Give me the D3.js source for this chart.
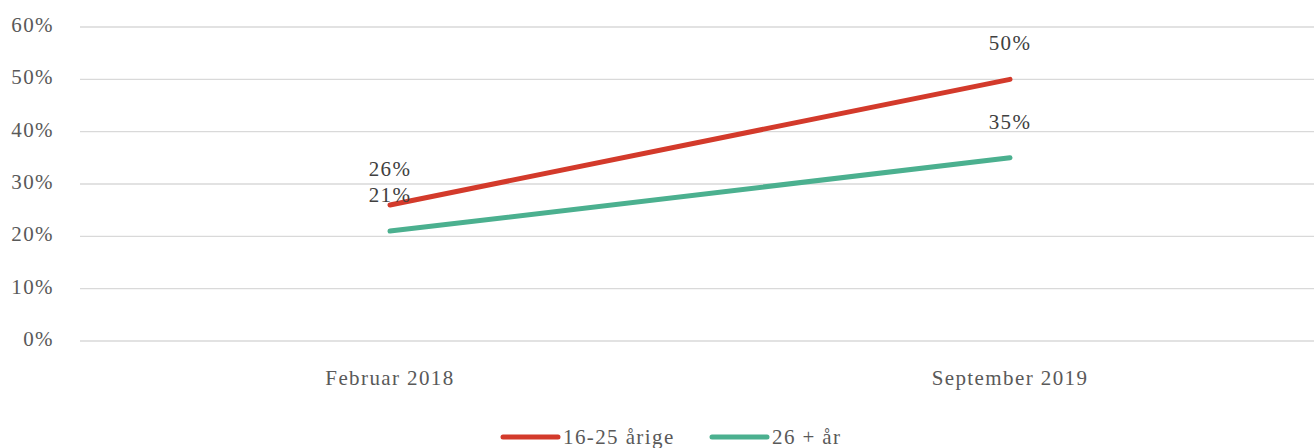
<!DOCTYPE html>
<html>
<head>
<meta charset="utf-8">
<script src="https://cdn.jsdelivr.net/npm/d3@7"></script>
<style>
  html, body { margin: 0; padding: 0; background: #fff; }
  svg { display: block; font-family: "Liberation Serif", "DejaVu Serif", serif; }
  svg text { font-size: 21px; letter-spacing: 1.4px; }
</style>
</head>
<body>
<svg id="chart" width="1314" height="448"></svg>
<script>
// data
const categories = ["Februar 2018", "September 2019"];
const seriesNames = ["16-25 årige", "26 + år"];
const youngValues = [26, 50];
const olderValues = [21, 35];
const yTicks = [0, 10, 20, 30, 40, 50, 60];
const colors = ["#d33a2b", "#4bb08f"];

const series = [
  { name: seriesNames[0], values: youngValues, color: colors[0] },
  { name: seriesNames[1], values: olderValues, color: colors[1] }
];

const width = 1314, height = 448;
const margin = { left: 80, right: -6, top: 27, bottom: 107 };

const svg = d3.select("#chart");

const x = d3.scalePoint()
  .domain(categories)
  .range([margin.left, width - margin.right])
  .padding(0.5);

const y = d3.scaleLinear()
  .domain([0, 60])
  .range([height - margin.bottom, margin.top]);

// gridlines
svg.append("g")
  .selectAll("line")
  .data(yTicks)
  .join("line")
  .attr("x1", margin.left)
  .attr("x2", width)
  .attr("y1", d => y(d))
  .attr("y2", d => y(d))
  .attr("stroke", "#d9d9d9")
  .attr("stroke-width", 1.3);

// y tick labels
svg.append("g")
  .selectAll("text")
  .data(yTicks)
  .join("text")
  .attr("x", 54)
  .attr("y", d => y(d) + 5)
  .attr("text-anchor", "end")
  .attr("fill", "#595959")
  .text(d => d + "%");

// x labels
svg.append("g")
  .selectAll("text")
  .data(categories)
  .join("text")
  .attr("x", d => x(d))
  .attr("y", 385)
  .attr("text-anchor", "middle")
  .attr("fill", "#595959")
  .text(d => d);

// lines
const line = d3.line()
  .x((d, i) => x(categories[i]))
  .y(d => y(d));

svg.append("g")
  .selectAll("path")
  .data(series)
  .join("path")
  .attr("d", d => line(d.values))
  .attr("fill", "none")
  .attr("stroke", d => d.color)
  .attr("stroke-width", 5)
  .attr("stroke-linecap", "round");

// value labels
series.forEach(s => {
  svg.append("g")
    .selectAll("text")
    .data(s.values)
    .join("text")
    .attr("x", (d, i) => x(categories[i]))
    .attr("y", d => y(d) - 29)
    .attr("text-anchor", "middle")
    .attr("fill", "#404040")
    .text(d => d + "%");
});

// legend
const legendX = [503, 712];
const legend = svg.append("g")
  .selectAll("g")
  .data(series)
  .join("g")
  .attr("transform", (d, i) => `translate(${legendX[i]},437)`);

legend.append("line")
  .attr("x1", 0).attr("x2", 55)
  .attr("stroke", d => d.color)
  .attr("stroke-width", 5)
  .attr("stroke-linecap", "round");

legend.append("text")
  .attr("x", 60)
  .attr("y", 7)
  .attr("fill", "#595959")
  .text(d => d.name);
</script>
</body>
</html>
